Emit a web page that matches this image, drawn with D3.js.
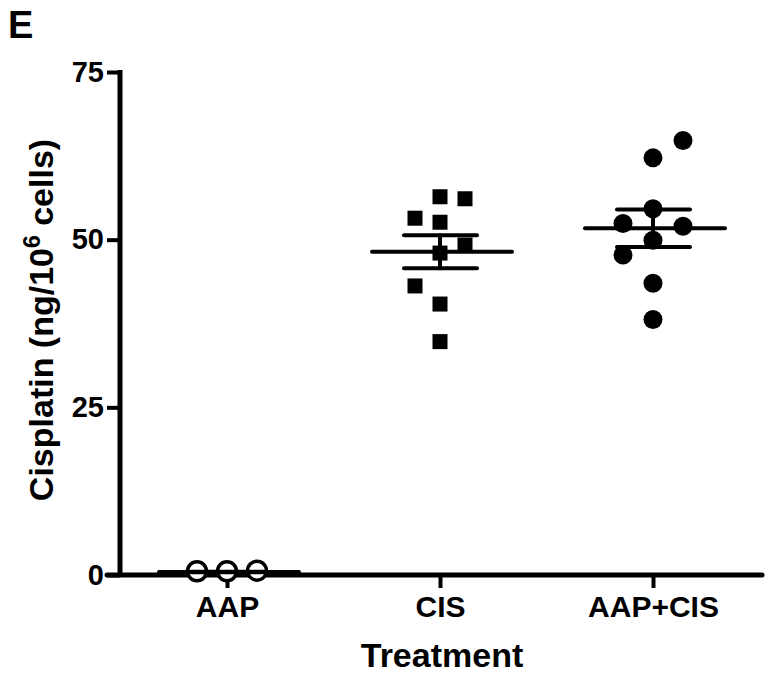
<!DOCTYPE html>
<html><head><meta charset="utf-8">
<script src="https://cdn.jsdelivr.net/npm/d3@7"></script>
<style>
html,body{margin:0;padding:0;background:#fff;}
svg{display:block;font-family:"Liberation Sans",Arial,Helvetica,sans-serif;font-weight:bold;}
</style></head>
<body>
<svg id="chart" width="769" height="676"></svg>
<script>
// ---- data ----
const categories = ["AAP", "CIS", "AAP+CIS"];
const aapValues = [0.4, 0.4, 0.5];
const aapColumns = [-1, 0, 1];
const cisValues = [56.4, 56.1, 53.2, 52.6, 49.2, 48.0, 43.1, 40.4, 34.8];
const cisColumns = [0, 1, -1, 0, 1, 0, -1, 0, 0];
const comboValues = [64.8, 62.2, 54.6, 52.4, 52.0, 49.9, 47.7, 43.5, 38.1];
const comboColumns = [1, 0, 0, -1, 1, 0, -1, 0, 0];
const yTicks = [0, 25, 50, 75];
const panelLabel = "E";
const xTitle = "Treatment";

const groups = [
  {name: categories[0], values: aapValues, cols: aapColumns, shape: "openCircle"},
  {name: categories[1], values: cisValues, cols: cisColumns, shape: "square"},
  {name: categories[2], values: comboValues, cols: comboColumns, shape: "circle"}
];

const svg = d3.select("#chart");
const axisX = 120, axisY = 575;
const x = d3.scalePoint().domain(categories).range([227, 653]);
const y = d3.scaleLinear().domain([0, 75]).range([axisY, 72]);
const SW = 5;

// Y axis
const yAxis = svg.append("g").attr("transform", `translate(${axisX},0)`)
  .call(d3.axisLeft(y).tickValues(yTicks).tickSize(13).tickPadding(3).tickFormat(d3.format("d")));
yAxis.select(".domain").remove();
yAxis.selectAll(".tick line").attr("stroke", "#000").attr("stroke-width", 4);
yAxis.selectAll(".tick text").attr("fill", "#000").attr("font-size", 29)
  .attr("font-weight", "bold").attr("font-family", "Liberation Sans, Arial, sans-serif");
svg.append("line").attr("x1", axisX).attr("x2", axisX)
  .attr("y1", y(75) - 2).attr("y2", axisY + 2).attr("stroke", "#000").attr("stroke-width", SW);

// X axis
const xAxis = svg.append("g").attr("transform", `translate(0,${axisY})`)
  .call(d3.axisBottom(x).tickSize(13).tickPadding(8));
xAxis.select(".domain").remove();
xAxis.selectAll(".tick line").attr("stroke", "#000").attr("stroke-width", 4);
xAxis.selectAll(".tick text").attr("fill", "#000").attr("font-size", 30)
  .attr("font-weight", "bold").attr("font-family", "Liberation Sans, Arial, sans-serif");
svg.append("line").attr("x1", 107).attr("x2", 762)
  .attr("y1", axisY).attr("y2", axisY).attr("stroke", "#000").attr("stroke-width", SW)
  .attr("stroke-linecap", "round");

// Titles
svg.append("text").attr("x", 442).attr("y", 667).attr("text-anchor", "middle")
  .attr("font-size", 34).attr("fill", "#000").text(xTitle);
const yl = svg.append("text").attr("transform", "translate(53,320) rotate(-90)")
  .attr("text-anchor", "middle").attr("font-size", 34).attr("fill", "#000");
yl.append("tspan").text("Cisplatin (ng/10");
yl.append("tspan").attr("dy", -13).attr("font-size", 23).text("6");
yl.append("tspan").attr("dy", 13).text(" cells)");
svg.append("text").attr("x", 8).attr("y", 38).attr("font-size", 38).attr("fill", "#000").text(panelLabel);

// Points
groups.forEach(g => {
  const cx = x(g.name);
  const jit = g.shape === "square" ? 25 : 30;
  const pts = g.values.map((v, i) => ({v, c: g.cols[i]}));
  const sel = svg.append("g");
  if (g.shape === "square") {
    sel.selectAll("rect").data(pts).join("rect")
      .attr("x", d => cx + d.c * jit - 7.5).attr("y", d => y(d.v) - 7.5)
      .attr("width", 15).attr("height", 15).attr("fill", "#000");
  } else if (g.shape === "circle") {
    sel.selectAll("circle").data(pts).join("circle")
      .attr("cx", d => cx + d.c * jit).attr("cy", d => y(d.v)).attr("r", 9.5).attr("fill", "#000");
  } else {
    sel.selectAll("circle").data(pts).join("circle")
      .attr("cx", d => cx + d.c * jit).attr("cy", d => y(d.v) - 1).attr("r", 9.5)
      .attr("fill", "#fff").attr("stroke", "#000").attr("stroke-width", 3.5);
  }
  // mean and SEM
  const m = d3.mean(g.values);
  const sem = d3.deviation(g.values) / Math.sqrt(g.values.length);
  const eb = svg.append("g").attr("stroke", "#000").attr("stroke-width", 4).attr("stroke-linecap", "round");
  eb.append("line").attr("x1", cx - 68).attr("x2", cx + 72).attr("y1", y(m)).attr("y2", y(m));
  eb.append("line").attr("x1", cx).attr("x2", cx).attr("y1", y(m + sem)).attr("y2", y(m - sem));
  eb.append("line").attr("x1", cx - 36).attr("x2", cx + 37).attr("y1", y(m + sem)).attr("y2", y(m + sem));
  eb.append("line").attr("x1", cx - 36).attr("x2", cx + 37).attr("y1", y(m - sem)).attr("y2", y(m - sem));
});
</script>
</body></html>
